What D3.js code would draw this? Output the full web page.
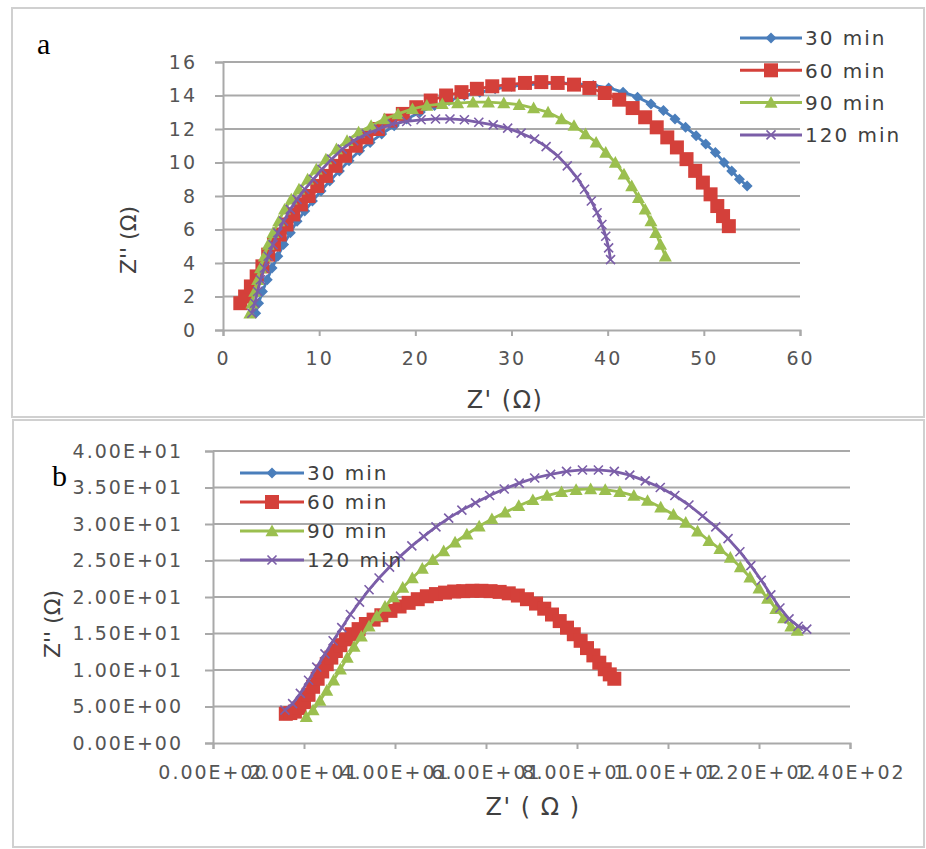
<!DOCTYPE html>
<html>
<head>
<meta charset="utf-8">
<script src="https://cdn.jsdelivr.net/npm/d3@7"></script>
<style>
body{margin:0;background:#fff;}
text{font-family:"DejaVu Sans",Verdana,sans-serif;}
</style>
</head>
<body>
<svg id="viz" width="926" height="849"></svg>
<script>

// ---------------------------
// Data
// ---------------------------

const seriesNames = ["30 min", "60 min", "90 min", "120 min"];
const seriesColors = ["#4a7ebb", "#d4403a", "#9bbf4f", "#7b5ea8"];
const seriesMarkers = ["diamond", "square", "triangle", "x"];

// panel a  [Z', Z'']
const a30 = [[3.4,1.0],[3.7,1.6],[4.1,2.3],[4.6,3.0],[5.1,3.7],[5.7,4.4],[6.3,5.1],[7.0,5.8],[7.7,6.5],[8.5,7.1],[9.3,7.7],[10.2,8.3],[11.1,8.9],[12.1,9.5],[13.1,10.1],[14.2,10.7],[15.3,11.2],[16.5,11.7],[17.8,12.2],[19.1,12.6],[20.5,13.0],[22.0,13.4],[23.5,13.7],[25.1,14.0],[26.7,14.2],[28.3,14.4],[30.0,14.55],[31.7,14.65],[33.4,14.7],[35.1,14.75],[36.8,14.7],[38.5,14.6],[40.1,14.45],[41.6,14.2],[43.1,13.9],[44.5,13.5],[45.8,13.1],[47.0,12.6],[48.1,12.1],[49.2,11.6],[50.2,11.1],[51.2,10.6],[52.1,10.0],[52.9,9.5],[53.7,9.0],[54.5,8.6]];
const a60 = [[1.8,1.6],[2.3,2.0],[2.9,2.6],[3.5,3.2],[4.1,3.8],[4.7,4.5],[5.3,5.1],[5.9,5.7],[6.6,6.3],[7.3,6.9],[8.1,7.5],[8.9,8.0],[9.8,8.6],[10.7,9.2],[11.7,9.8],[12.7,10.4],[13.8,11.0],[14.9,11.5],[16.1,12.0],[17.4,12.5],[18.7,12.9],[20.1,13.3],[21.6,13.7],[23.2,14.0],[24.8,14.2],[26.4,14.4],[28.0,14.55],[29.7,14.65],[31.4,14.75],[33.1,14.8],[34.8,14.75],[36.5,14.65],[38.1,14.45],[39.7,14.15],[41.2,13.75],[42.6,13.25],[43.9,12.7],[45.1,12.1],[46.2,11.5],[47.2,10.9],[48.2,10.2],[49.1,9.5],[49.9,8.8],[50.7,8.1],[51.4,7.4],[52.0,6.8],[52.6,6.2]];
const a90 = [[2.8,1.0],[3.0,1.6],[3.3,2.3],[3.6,3.0],[3.9,3.7],[4.3,4.4],[4.7,5.1],[5.2,5.8],[5.8,6.5],[6.4,7.2],[7.1,7.8],[7.9,8.4],[8.8,9.0],[9.7,9.6],[10.7,10.2],[11.8,10.8],[12.9,11.3],[14.1,11.8],[15.4,12.2],[16.8,12.6],[18.2,12.9],[19.7,13.2],[21.2,13.4],[22.8,13.5],[24.4,13.55],[26.0,13.6],[27.6,13.6],[29.2,13.55],[30.8,13.45],[32.3,13.25],[33.8,13.0],[35.2,12.6],[36.5,12.2],[37.7,11.7],[38.8,11.2],[39.8,10.6],[40.8,10.0],[41.7,9.3],[42.5,8.6],[43.2,7.9],[43.9,7.2],[44.5,6.5],[45.0,5.8],[45.5,5.1],[46.0,4.4]];
const a120 = [[3.0,1.0],[3.3,1.6],[3.6,2.3],[3.9,3.0],[4.3,3.7],[4.7,4.4],[5.2,5.1],[5.7,5.8],[6.3,6.5],[7.0,7.2],[7.7,7.8],[8.5,8.4],[9.4,9.0],[10.3,9.6],[11.3,10.2],[12.4,10.8],[13.6,11.3],[14.9,11.7],[16.2,12.0],[17.6,12.3],[19.1,12.45],[20.6,12.55],[22.1,12.6],[23.6,12.6],[25.1,12.55],[26.6,12.4],[28.1,12.25],[29.6,12.05],[31.0,11.75],[32.4,11.4],[33.6,10.95],[34.8,10.4],[35.8,9.8],[36.8,9.1],[37.6,8.4],[38.3,7.7],[38.9,7.0],[39.4,6.3],[39.8,5.6],[40.1,4.9],[40.3,4.2]];

// panel b  [Z', Z'']  (30 min is listed in the legend but not visible)
const b30 = [];
const b60 = [[16,4.0],[17,4.1],[18,4.3],[19,4.8],[20,5.6],[21,6.6],[22,7.7],[23,8.8],[24,9.8],[25,10.8],[26,11.7],[27,12.6],[28,13.4],[29.2,14.2],[30.5,14.9],[32,15.6],[33.6,16.3],[35.3,16.9],[37,17.5],[39,18.1],[41,18.7],[43,19.2],[45,19.7],[47,20.1],[49,20.4],[51,20.6],[53,20.75],[55,20.8],[57,20.85],[59,20.85],[61,20.8],[63,20.7],[65,20.5],[67,20.2],[69,19.7],[71,19.1],[72.8,18.4],[74.5,17.6],[76.2,16.7],[77.8,15.8],[79.3,14.9],[80.8,14.0],[82.2,13.0],[83.6,12.0],[84.9,11.0],[86.1,10.1],[87.2,9.4],[88.2,8.8]];
const b90 = [[20.5,3.6],[22,4.5],[23.5,5.8],[25,7.2],[26.5,8.6],[28,10.1],[29.5,11.7],[31,13.2],[32.6,14.6],[34.3,16.0],[36,17.4],[37.8,18.7],[39.7,20.0],[41.7,21.3],[43.8,22.6],[46,23.9],[48.3,25.1],[50.7,26.3],[53.2,27.5],[55.8,28.6],[58.5,29.7],[61.3,30.7],[64.2,31.6],[67.2,32.5],[70.3,33.3],[73.4,33.9],[76.6,34.4],[79.8,34.7],[83,34.8],[86.2,34.7],[89.4,34.4],[92.5,33.9],[95.5,33.2],[98.4,32.3],[101.2,31.3],[103.9,30.2],[106.5,29.0],[109,27.7],[111.4,26.6],[113.7,25.4],[115.9,24.1],[118,22.7],[120,21.2],[121.9,19.8],[123.7,18.4],[125.4,17.1],[127,16.0],[128.4,15.4]];
const b120 = [[15.8,4.5],[17.5,5.4],[19.2,6.8],[21,8.6],[22.8,10.4],[24.6,12.2],[26.4,14.0],[28.3,15.8],[30.2,17.6],[32.2,19.3],[34.3,21.0],[36.5,22.6],[38.8,24.1],[41.2,25.6],[43.7,27.0],[46.3,28.3],[49,29.6],[51.8,30.8],[54.7,31.9],[57.7,32.9],[60.8,33.9],[64,34.8],[67.3,35.6],[70.7,36.3],[74.2,36.8],[77.7,37.2],[81.2,37.4],[84.7,37.4],[88.2,37.2],[91.6,36.7],[95,35.9],[98.3,35.0],[101.5,33.9],[104.6,32.6],[107.6,31.1],[110.5,29.6],[113.2,28.0],[115.8,26.2],[118.2,24.3],[120.5,22.3],[122.6,20.3],[124.6,18.5],[126.6,17.0],[128.6,16.0],[130.5,15.6]];

// ticks
const aXTicks = [0, 10, 20, 30, 40, 50, 60];
const aYTicks = [0, 2, 4, 6, 8, 10, 12, 14, 16];
const bXTicks = [0, 20, 40, 60, 80, 100, 120, 140];
const bXLabels = ["0.00E+00", "2.00E+01", "4.00E+01", "6.00E+01", "8.00E+01", "1.00E+02", "1.20E+02", "1.40E+02"];
const bYTicks = [0, 5, 10, 15, 20, 25, 30, 35, 40];
const bYLabels = ["0.00E+00", "5.00E+00", "1.00E+01", "1.50E+01", "2.00E+01", "2.50E+01", "3.00E+01", "3.50E+01", "4.00E+01"];


// ---------------------------
// Helpers
// ---------------------------

const svg = d3.select("#viz");
const gridColor = "#a9a9a9";

function markerPath(type, r){
    switch(type){
        case "diamond":
            return `M0,${-r}L${r},0L0,${r}L${-r},0Z`;
        case "square":
            return `M${-r},${-r}H${r}V${r}H${-r}Z`;
        case "triangle":
            return `M0,${-r}L${r},${r*0.8}L${-r},${r*0.8}Z`;
        case "x":
            return `M${-r},${-r}L${r},${r}M${-r},${r}L${r},${-r}`;
    }
}

const markerSize = {diamond:5.5, square:7, triangle:6.5, x:4.5};

function drawMarker(g, type, color, x, y){
    const p = g.append("path")
        .attr("transform", `translate(${x},${y})`)
        .attr("d", markerPath(type, markerSize[type]));
    if(type === "x"){
        p.attr("fill", "none").attr("stroke", color).attr("stroke-width", 1.6);
    } else {
        p.attr("fill", color);
    }
}

function drawPanel(cfg){

    const g = svg.append("g");

    const x = d3.scaleLinear().domain(cfg.xDomain).range([cfg.left, cfg.right]);
    const y = d3.scaleLinear().domain(cfg.yDomain).range([cfg.bottom, cfg.top]);

    // grid
    g.selectAll(".grid")
        .data(cfg.yTicks.slice(1))
        .join("line")
        .attr("x1", cfg.left)
        .attr("x2", cfg.right)
        .attr("y1", d => y(d))
        .attr("y2", d => y(d))
        .attr("stroke", gridColor)
        .attr("stroke-width", 2);

    // axes
    const xAxis = d3.axisBottom(x)
        .tickValues(cfg.xTicks)
        .tickSize(6)
        .tickPadding(cfg.xPad)
        .tickFormat((d, i) => cfg.xLabels ? cfg.xLabels[i] : d);

    const yAxis = d3.axisLeft(y)
        .tickValues(cfg.yTicks)
        .tickSize(8)
        .tickPadding(cfg.yPad)
        .tickFormat((d, i) => cfg.yLabels ? cfg.yLabels[i] : d);

    const gx = g.append("g")
        .attr("transform", `translate(0,${cfg.bottom})`)
        .call(xAxis);

    const gy = g.append("g")
        .attr("transform", `translate(${cfg.left},0)`)
        .call(yAxis);

    [gx, gy].forEach(ax => {
        ax.select(".domain").attr("stroke", gridColor).attr("stroke-width", 2);
        ax.selectAll(".tick line").attr("stroke", gridColor).attr("stroke-width", 2);
        ax.selectAll(".tick text")
            .attr("fill", "#555555")
            .style("font-size", "19px")
            .style("letter-spacing", "2px")
            .style("font-family", "'DejaVu Sans', Verdana, sans-serif");
    });

    // series
    const line = d3.line().x(d => x(d[0])).y(d => y(d[1]));

    cfg.series.forEach((data, i) => {
        if(!data.length) return;
        g.append("path")
            .datum(data)
            .attr("fill", "none")
            .attr("stroke", seriesColors[i])
            .attr("stroke-width", 2.8)
            .attr("stroke-linejoin", "round")
            .attr("d", line);
        const mg = g.append("g");
        data.forEach(d => drawMarker(mg, seriesMarkers[i], seriesColors[i], x(d[0]), y(d[1])));
    });

    // titles
    g.append("text")
        .attr("x", cfg.xTitlePos[0])
        .attr("y", cfg.xTitlePos[1])
        .attr("text-anchor", "middle")
        .attr("fill", "#404040")
        .style("font-size", "24px")
        .style("letter-spacing", "1.5px")
        .text(cfg.xTitle);

    g.append("text")
        .attr("transform", `translate(${cfg.yTitlePos[0]},${cfg.yTitlePos[1]}) rotate(-90)`)
        .attr("text-anchor", "middle")
        .attr("fill", "#404040")
        .style("font-size", "22px")
        .text(cfg.yTitle);

    // panel letter
    g.append("text")
        .attr("x", cfg.letterPos[0])
        .attr("y", cfg.letterPos[1])
        .attr("fill", "#000")
        .style("font-family", "'Liberation Serif', 'Times New Roman', serif")
        .style("font-size", "30px")
        .text(cfg.letter);

    // legend
    const lg = g.append("g");
    seriesNames.forEach((name, i) => {
        const ly = cfg.legend.y + i * cfg.legend.step;
        lg.append("line")
            .attr("x1", cfg.legend.x)
            .attr("x2", cfg.legend.x + cfg.legend.len)
            .attr("y1", ly)
            .attr("y2", ly)
            .attr("stroke", seriesColors[i])
            .attr("stroke-width", 3);
        drawMarker(lg, seriesMarkers[i], seriesColors[i], cfg.legend.x + cfg.legend.len / 2, ly);
        lg.append("text")
            .attr("x", cfg.legend.x + cfg.legend.len + 3)
            .attr("y", ly)
            .attr("dy", "0.36em")
            .attr("fill", "#404040")
            .style("font-size", "20px")
            .style("letter-spacing", "2px")
            .text(name);
    });
}


// ---------------------------
// Frames
// ---------------------------

svg.append("rect")
    .attr("x", 12).attr("y", 8)
    .attr("width", 912).attr("height", 409)
    .attr("fill", "none")
    .attr("stroke", "#d0d0d0")
    .attr("stroke-width", 2);

svg.append("rect")
    .attr("x", 13).attr("y", 420)
    .attr("width", 911).attr("height", 427)
    .attr("fill", "none")
    .attr("stroke", "#d0d0d0")
    .attr("stroke-width", 2);


// ---------------------------
// Panels
// ---------------------------

drawPanel({
    left: 223, right: 800, top: 62, bottom: 330,
    xDomain: [0, 60], yDomain: [0, 16],
    xTicks: aXTicks, yTicks: aYTicks,
    xPad: 16, yPad: 18,
    series: [a30, a60, a90, a120],
    xTitle: "Z' (Ω)", xTitlePos: [505, 408],
    yTitle: "Z'' (Ω)", yTitlePos: [136, 240],
    letter: "a", letterPos: [37, 54],
    legend: {x: 740, len: 62, y: 38, step: 32.3}
});

drawPanel({
    left: 213, right: 850, top: 451, bottom: 743,
    xDomain: [0, 140], yDomain: [0, 40],
    xTicks: bXTicks, yTicks: bYTicks,
    xLabels: bXLabels, yLabels: bYLabels,
    xPad: 17, yPad: 22,
    series: [b30, b60, b90, b120],
    xTitle: "Z' ( Ω )", xTitlePos: [533, 815],
    yTitle: "Z'' (Ω)", yTitlePos: [60, 624],
    letter: "b", letterPos: [52, 486],
    legend: {x: 240, len: 64, y: 473, step: 29}
});

</script>
</body>
</html>
